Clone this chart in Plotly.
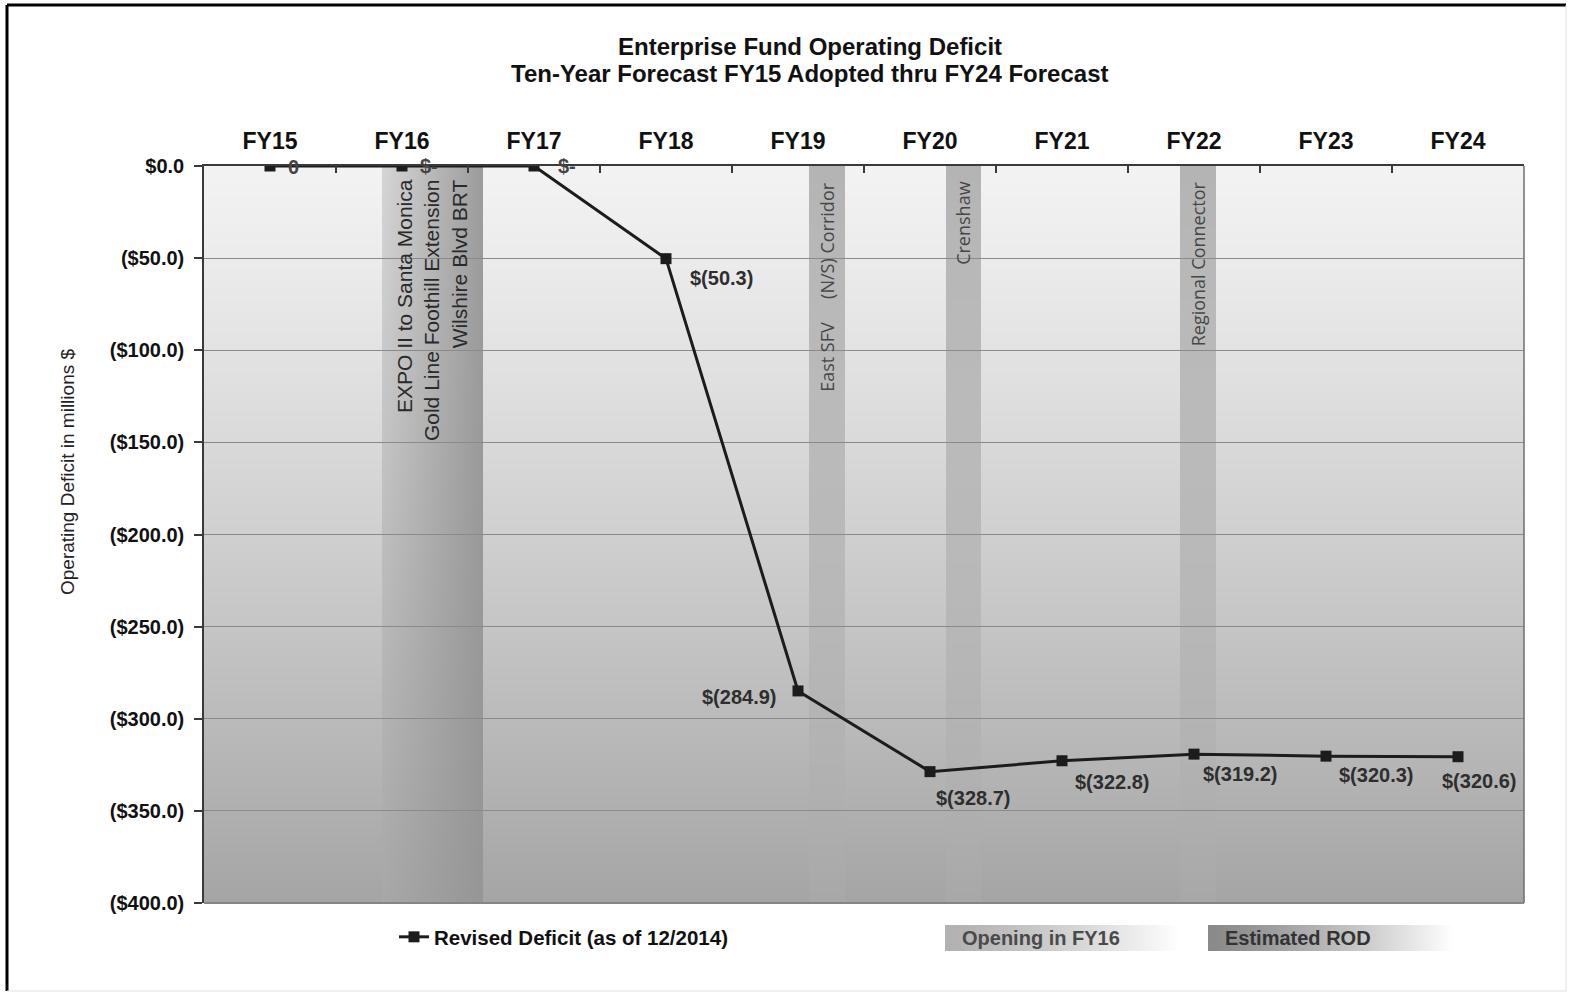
import base64
import struct
import zlib

import numpy as np
import plotly.graph_objects as go

# ---- data -------------------------------------------------------------
years = ["FY15", "FY16", "FY17", "FY18", "FY19", "FY20", "FY21", "FY22", "FY23", "FY24"]
deficit = [0.0, 0.0, 0.0, -50.3, -284.9, -328.7, -322.8, -319.2, -320.3, -320.6]
zero_labels = {0: "0", 1: "$-", 2: "$-"}
y_ticks = [0, -50, -100, -150, -200, -250, -300, -350, -400]

series_name = "Revised Deficit (as of 12/2014)"
title_lines = ["Enterprise Fund Operating Deficit",
               "Ten-Year Forecast FY15 Adopted thru FY24 Forecast"]
y_title = "Operating Deficit in millions $"

fy16_projects = ["EXPO II to Santa Monica", "Gold Line Foothill Extension", "Wilshire Blvd BRT"]
rod_projects = ["East SFV\u00a0\u00a0\u00a0\u00a0\u00a0(N/S) Corridor", "Crenshaw", "Regional Connector"]
legend_boxes = ["Opening in FY16", "Estimated ROD"]

# ---- layout geometry (pixels) -----------------------------------------
W, H = 1570, 993
L, R, T, B = 204, 46, 166, 90
PW, PH = W - L - R, H - T - B


def px(xp):
    return (xp - L) / PW


def py(yp):
    return (H - B - yp) / PH


def cat(xp):
    return (xp - L) / PW * len(years) - 0.5


# shaded columns in category units
fy16_band = (cat(382), cat(483))
rod_bands = [(cat(809), cat(845)), (cat(946), cat(981)), (cat(1180), cat(1216))]


# ---- gradient images ---------------------------------------------------
def png_uri(arr):
    arr = np.clip(arr, 0, 255).astype(np.uint8)
    h, w = arr.shape
    raw = b"".join(b"\x00" + arr[r].tobytes() for r in range(h))

    def chunk(tag, data):
        c = struct.pack(">I", len(data)) + tag + data
        return c + struct.pack(">I", zlib.crc32(tag + data) & 0xFFFFFFFF)

    png = (b"\x89PNG\r\n\x1a\n"
           + chunk(b"IHDR", struct.pack(">IIBBBBB", w, h, 8, 0, 0, 0, 0))
           + chunk(b"IDAT", zlib.compress(raw, 9))
           + chunk(b"IEND", b""))
    return "data:image/png;base64," + base64.b64encode(png).decode()


u = -0.5 + (np.arange(PW) + 0.5) / PW * len(years)
t = (np.arange(PH) + 0.5) / PH
U, Tt = np.meshgrid(u, t)
base = 243 - 78 * Tt ** 1.15
bg = base.copy()
for a, b in rod_bands:
    m = (U >= a) & (U <= b)
    bg[m] = (base - 63 * (1 - Tt) ** 1.4 + 3 * Tt)[m]
a, b = fy16_band
m = (U >= a) & (U <= b)
s = (U - a) / (b - a)
top_v = 214 - 58 * s
bot_v = 168 - 18 * s
bg[m] = (top_v * (1 - Tt) + bot_v * Tt)[m]
plot_bg = png_uri(bg)


def fade_box(left_val, fade_at, w=260, h=26):
    xx = np.linspace(0, 1, w)
    row = left_val + (255 - left_val) * np.clip(xx / fade_at, 0, 1) ** 1.3
    return png_uri(np.tile(row, (h, 1)))


box1 = fade_box(178, 0.9)
box2 = fade_box(138, 0.95)

# ---- figure -------------------------------------------------------------
x_idx = list(range(len(years)))
labels = [zero_labels.get(i, f"$({abs(v):.1f})") for i, v in enumerate(deficit)]

fig = go.Figure()
fig.add_trace(go.Scatter(
    x=x_idx, y=deficit, mode="lines+markers", name=series_name,
    line=dict(color="#1c1c1c", width=3),
    marker=dict(symbol="square", size=11, color="#1c1c1c"),
    hoverinfo="skip",
))

BOLD = dict(family="Liberation Sans, Arial, sans-serif", weight="bold")

# label offsets (dx, dy) in pixels from each point
offsets = [(23, 1), (27, 0), (33, 0), (55, 19), (-59, 6), (43, 26), (50, 21), (46, 20), (50, 19), (21, 24)]
annotations = []
for i, (v, lab) in enumerate(zip(deficit, labels)):
    dx, dy = offsets[i]
    annotations.append(dict(
        x=i, y=v, xref="x", yref="y", text=lab, showarrow=False,
        xshift=dx, yshift=-dy, xanchor="center", yanchor="middle",
        font=dict(size=20, color="#444" if v == 0 else "#2e2e2e", **BOLD),
    ))

# project names inside the shaded columns
annotations.append(dict(
    x=cat(432), y=-6, xref="x", yref="y", text="<br>".join(fy16_projects),
    textangle=-90, align="right", xanchor="center", yanchor="top", showarrow=False,
    font=dict(size=21, color="#2a2a2a", family="Liberation Sans, Arial, sans-serif"),
))
for (a, b), name in zip(rod_bands, rod_projects):
    annotations.append(dict(
        x=(a + b) / 2, y=-7.5, xref="x", yref="y", text=name,
        textangle=-90, xanchor="center", yanchor="top", showarrow=False,
        font=dict(size=18, color="#474747", family="Open Sans, sans-serif"),
    ))

# titles
for line, yp in zip(title_lines, [47, 73]):
    annotations.append(dict(
        x=px(810), y=py(yp), xref="paper", yref="paper", text=line, showarrow=False,
        xanchor="center", yanchor="middle", font=dict(size=24, color="#111", **BOLD),
    ))
annotations.append(dict(
    x=px(67), y=py(472), xref="paper", yref="paper", text=y_title, showarrow=False,
    textangle=-90, xanchor="center", yanchor="middle",
    font=dict(size=19, color="#222", family="Liberation Sans, Arial, sans-serif"),
))

# gradient legend keys
for txt, xp, col in zip(legend_boxes, [960, 1223], ["#4a4a4a", "#333"]):
    annotations.append(dict(
        x=px(xp), y=py(938), xref="paper", yref="paper", text=txt, showarrow=False,
        xanchor="left", yanchor="middle", font=dict(size=20, color=col, **BOLD),
    ))

images = [
    dict(source=plot_bg, xref="x", yref="y", x=-0.5, y=0, sizex=len(years), sizey=400,
         xanchor="left", yanchor="top", sizing="stretch", layer="below"),
    dict(source=box1, xref="paper", yref="paper", x=px(945), y=py(925),
         sizex=(1205 - 945) / PW, sizey=26 / PH, xanchor="left", yanchor="top",
         sizing="stretch", layer="below"),
    dict(source=box2, xref="paper", yref="paper", x=px(1208), y=py(925),
         sizex=(1465 - 1208) / PW, sizey=26 / PH, xanchor="left", yanchor="top",
         sizing="stretch", layer="below"),
]

shapes = [
    # plot frame right / bottom
    dict(type="line", xref="paper", yref="paper", x0=1, x1=1, y0=0, y1=1,
         line=dict(color="#6e6e6e", width=1.5)),
    dict(type="line", xref="paper", yref="paper", x0=0, x1=1, y0=0, y1=0,
         line=dict(color="#858585", width=2)),
    # outer page frame
    dict(type="line", xref="paper", yref="paper", x0=px(7), x1=px(7), y0=py(991), y1=py(5),
         line=dict(color="#000", width=3)),
    dict(type="line", xref="paper", yref="paper", x0=px(7), x1=px(1566), y0=py(5), y1=py(5),
         line=dict(color="#000", width=3)),
    dict(type="line", xref="paper", yref="paper", x0=px(1566), x1=px(1566), y0=py(991), y1=py(5),
         line=dict(color="#e2e2e2", width=1)),
    dict(type="line", xref="paper", yref="paper", x0=px(7), x1=px(1566), y0=py(991), y1=py(991),
         line=dict(color="#e2e2e2", width=1)),
]

fig.update_layout(
    width=W, height=H,
    margin=dict(l=L, r=R, t=T, b=B, pad=0),
    paper_bgcolor="white", plot_bgcolor="rgba(0,0,0,0)",
    showlegend=True,
    legend=dict(x=px(394), y=py(937), xanchor="left", yanchor="middle",
                bgcolor="rgba(0,0,0,0)", font=dict(size=20.5, color="#111", **BOLD),
                itemwidth=30, tracegroupgap=0),
    annotations=annotations, images=images, shapes=shapes,
    hovermode=False,
)
fig.update_xaxes(
    range=[-0.5, len(years) - 0.5], side="top",
    tickmode="array", tickvals=x_idx, ticktext=years, ticks="",
    tickfont=dict(size=23, color="#111", **BOLD), ticklabelstandoff=6,
    showgrid=False, zeroline=False,
    showline=True, linecolor="#3a3a3a", linewidth=1.5,
    minor=dict(tickmode="array", tickvals=[i + 0.5 for i in x_idx[:-1]],
               ticks="inside", ticklen=7, tickwidth=1.5, tickcolor="#3a3a3a", showgrid=False),
)
fig.update_yaxes(
    range=[-400, 0], tickmode="array", tickvals=y_ticks,
    ticktext=["$0.0" if v == 0 else f"(${abs(v):.1f})" for v in y_ticks],
    ticks="outside", ticklen=8, tickwidth=1.5, tickcolor="#3a3a3a",
    tickfont=dict(size=20, color="#111", **BOLD), ticklabelstandoff=6,
    showgrid=True, gridcolor="#8a8a8a", gridwidth=1, zeroline=False,
    showline=True, linecolor="#3a3a3a", linewidth=1.5,
)

fig.write_html("out.html")
